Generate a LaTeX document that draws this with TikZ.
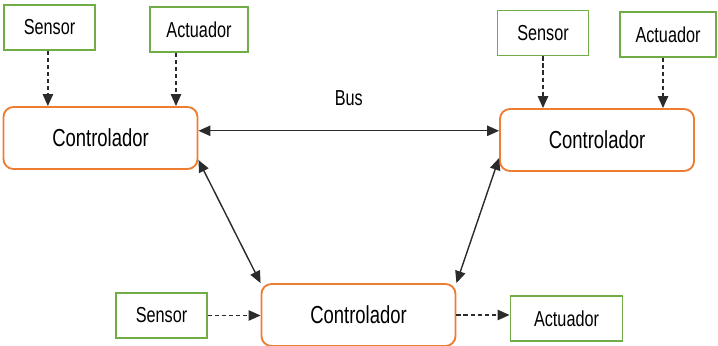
\documentclass[tikz,border=0pt]{standalone}
\usepackage{fontspec}
\setmainfont{Liberation Sans}[FakeStretch=0.75]
\usetikzlibrary{arrows.meta,positioning}
\definecolor{ctrlorange}{HTML}{ED7D31}
\definecolor{devgreen}{HTML}{70AD47}
\definecolor{linegray}{HTML}{2B2B2B}
\tikzset{
  ctrl/.style={draw=ctrlorange, line width=1.3pt, rectangle, rounded corners=0.25cm,
  minimum width=4.85cm, minimum height=1.55cm, fill=white,
  font=\fontsize{17.5}{19}\selectfont},
  dev/.style={draw=devgreen, line width=1.3pt, rectangle,
  minimum width=2.275cm, minimum height=1.125cm,
  font=\fontsize{15.4}{17}\selectfont},
  sig/.style={linegray, line width=1pt, dash pattern=on 3pt off 2pt,
  -{Triangle[length=3mm,width=2.6mm]}},
  link/.style={linegray, line width=1pt,
  {Triangle[length=3mm,width=2.6mm]}-{Triangle[length=3mm,width=2.6mm]}}}

\begin{document}
\begin{tikzpicture}[x=0.025cm, y=-0.025cm]
\useasboundingbox (0,0) rectangle (718,346);

% the three controllers
\draw (100.5,138) node (c1) [ctrl] {Controlador};
\draw (597,140) node (c2) [ctrl] {Controlador};
\draw (358.5,315) node (c3) [ctrl] {Controlador};

% sensors and actuators
\draw (49.5,27.5) node (s1) [dev] {Sensor};
\draw (199,29.5) node (a1) [dev, minimum width=2.45cm] {Actuador};
\draw (543,33) node (s2) [dev] {Sensor};
\draw (668,34.5) node (a2) [dev, minimum width=2.4cm] {Actuador};
\draw (161.5,315.5) node (s3) [dev] {Sensor};
\draw (566.5,318.5) node (a3) [dev, minimum width=2.8cm] {Actuador};

\draw [sig] ([xshift=-0.04cm]s1.south) -- ([xshift=-0.04cm]s1.south |- c1.north);
\draw [sig] ([xshift=-0.575cm]a1.south) -- ([xshift=-0.575cm]a1.south |- c1.north);
\draw [sig] (s2.south) -- (s2.south |- c2.north);
\draw [sig] ([xshift=-0.125cm]a2.south) -- ([xshift=-0.125cm]a2.south |- c2.north);
\draw [sig] (s3.east) -- (s3.east -| c3.west);
\draw [sig] (c3.east) -- (c3.east -| a3.west);

% bus between the upper controllers
\draw [link] ([yshift=0.18cm]c1.east) -- coordinate(bus) ([yshift=0.18cm]c1.east -| c2.west);
\draw (bus) ++(0,-33) node (buslbl) [font=\fontsize{15.4}{17}\selectfont] {Bus};

\draw [link] ([yshift=-0.55cm]c1.east) -- (c3.north west);
\draw [link] ([yshift=-0.45cm]c2.west) -- (c3.north east);

\end{tikzpicture}
\end{document}
